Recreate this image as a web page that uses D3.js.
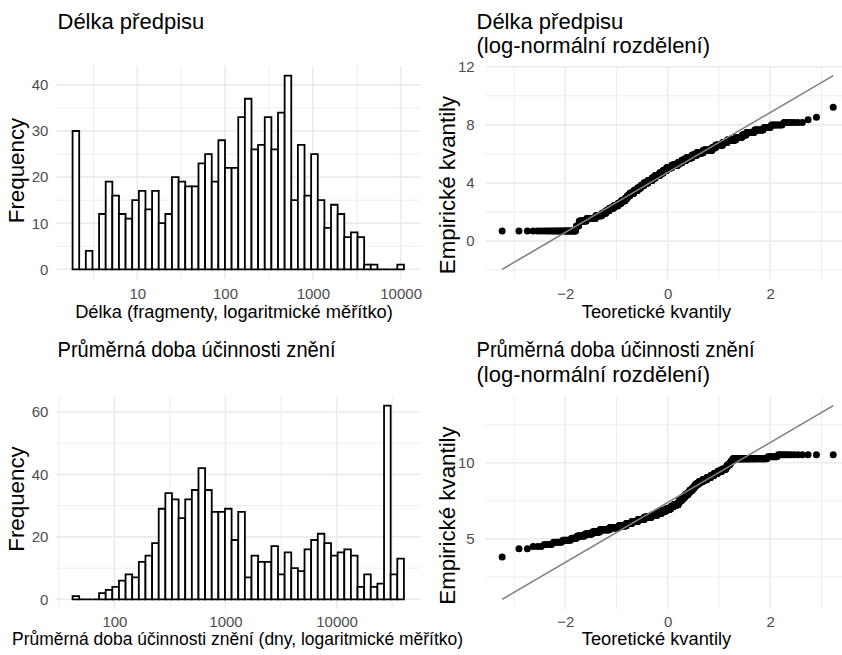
<!DOCTYPE html>
<html><head><meta charset="utf-8">
<script src="https://cdn.jsdelivr.net/npm/d3@7"></script>
<style>
body{margin:0;background:#fff}
svg{display:block}
text{font-family:"Liberation Sans",Arial,Helvetica,sans-serif}
</style>
</head><body>
<svg id="c" width="842" height="655"></svg>
<script>
// ---------------- data ----------------
// histogram counts, 50 bins on a log10 axis; bin centres run from range[0] to range[1]
const lengthCounts = [30,0,4,0,12,19,16,12,11,15,17,13,17,10,12,20,19,18,18,23,25,19,28,22,22,33,37,26,27,33,26,34,42,15,27,16,25,15,9,14,12,7,8,7,1,1,0,0,0,1];
const lengthRange = [2, 10000];
const durationCounts = [1,0,0,0,2,3,4,6,8,7,12,14,18,29,34,32,26,32,35,42,35,28,28,29,19,28,7,14,12,12,17,8,15,10,9,16,19,21,18,14,15,16,14,4,8,4,5,62,8,13];
const durationRange = [45, 37700];
// tick labels
const lengthTicks = [10, 100, 1000, 10000];
const durationTicks = [100, 1000, 10000];
const lengthFreqTicks = [0, 10, 20, 30, 40];
const durationFreqTicks = [0, 20, 40, 60];
const qqXTicks = [-2, 0, 2];
const lengthQQTicks = [0, 4, 8, 12];
const durationQQTicks = [5, 10];
// reference lines of the QQ plots (intercept, slope)
const lengthQQLine = [4.72, 2.06];
const durationQQLine = [7.39, 1.97];
// texts
const titles = {
  tl: ["Délka předpisu"],
  tr: ["Délka předpisu", "(log-normální rozdělení)"],
  bl: ["Průměrná doba účinnosti znění"],
  br: ["Průměrná doba účinnosti znění", "(log-normální rozdělení)"]
};
const xTitles = {
  tl: "Délka (fragmenty, logaritmické měřítko)",
  bl: "Průměrná doba účinnosti znění (dny, logaritmické měřítko)",
  qq: "Teoretické kvantily"
};
const yTitles = { hist: "Frequency", qq: "Empirické kvantily" };

// ---------------- layout ----------------
const P = {
  tl: {x0: 56, x1: 420.5, y0: 66, y1: 279, xpad: 9.3},
  tr: {x0: 485.6, x1: 849.8, y0: 66, y1: 279, xpad: 9.3},
  bl: {x0: 56, x1: 420.5, y0: 396, y1: 609, xpad: 7.3},
  br: {x0: 485.6, x1: 849.8, y0: 396, y1: 609, xpad: 7.3}
};
const GRID = "#EBEBEB", TICK = "#4D4D4D";
const FS_TICK = 15, FS_AXX = 18.3, FS_AXY = 22.3, FS_TITLE = 22;

const svg = d3.select("#c");

function invNorm(p) {
  const a = [-3.969683028665376e+01, 2.209460984245205e+02, -2.759285104469687e+02, 1.383577518672690e+02, -3.066479806614716e+01, 2.506628277459239e+00];
  const b = [-5.447609879822406e+01, 1.615858368580409e+02, -1.556989798598866e+02, 6.680131188771972e+01, -1.328068155288572e+01];
  const c = [-7.784894002430293e-03, -3.223964580411365e-01, -2.400758277161838e+00, -2.549732539343734e+00, 4.374664141464968e+00, 2.938163982698783e+00];
  const d = [7.784695709041462e-03, 3.224671290700398e-01, 2.445134137142996e+00, 3.754408661907416e+00];
  const pl = 0.02425, ph = 1 - pl;
  let q, r;
  if (p < pl) { q = Math.sqrt(-2 * Math.log(p));
    return (((((c[0]*q+c[1])*q+c[2])*q+c[3])*q+c[4])*q+c[5]) / ((((d[0]*q+d[1])*q+d[2])*q+d[3])*q+1); }
  if (p <= ph) { q = p - 0.5; r = q*q;
    return (((((a[0]*r+a[1])*r+a[2])*r+a[3])*r+a[4])*r+a[5])*q / (((((b[0]*r+b[1])*r+b[2])*r+b[3])*r+b[4])*r+1); }
  q = Math.sqrt(-2 * Math.log(1 - p));
  return -(((((c[0]*q+c[1])*q+c[2])*q+c[3])*q+c[4])*q+c[5]) / ((((d[0]*q+d[1])*q+d[2])*q+d[3])*q+1);
}

function expand(lo, hi) { const e = (hi - lo) * 0.05; return [lo - e, hi + e]; }

function grid(g, p, xs, ys, w) {
  g.selectAll(null).data(xs).enter().append("line")
    .attr("x1", d => d).attr("x2", d => d).attr("y1", p.y0).attr("y2", p.y1)
    .attr("stroke", GRID).attr("stroke-width", w);
  g.selectAll(null).data(ys).enter().append("line")
    .attr("y1", d => d).attr("y2", d => d).attr("x1", p.x0).attr("x2", p.x1)
    .attr("stroke", GRID).attr("stroke-width", w);
}

function midMinor(ticks, dom) {
  const step = ticks[1] - ticks[0];
  const out = [];
  for (let v = ticks[0] - step / 2; v <= dom[1]; v += step) if (v >= dom[0]) out.push(v);
  return out.filter(v => !ticks.includes(v));
}

function styleAxis(sel) {
  sel.select(".domain").remove();
  sel.selectAll("text").attr("fill", TICK).style("font-size", FS_TICK + "px")
    .style("font-family", '"Liberation Sans",Arial,sans-serif');
}

// fitW: optional widths (px) of each line, as measured on the reference
function titleText(x, y, lines, fitW) {
  const t = svg.append("text").attr("x", x).attr("y", y)
    .style("font-size", FS_TITLE + "px").attr("fill", "#000");
  lines.forEach((l, i) => {
    const s = t.append("tspan").attr("x", x).attr("dy", i ? 24.5 : 0).text(l);
    if (fitW && fitW[i]) s.attr("textLength", fitW[i]).attr("lengthAdjust", "spacingAndGlyphs");
  });
}

function axisTitleX(x, y, s, fitW) {
  const t = svg.append("text").attr("x", x).attr("y", y).attr("text-anchor", "middle")
    .style("font-size", FS_AXX + "px").attr("fill", "#000").text(s);
  if (fitW) t.attr("textLength", fitW).attr("lengthAdjust", "spacingAndGlyphs");
}
function axisTitleY(x, y, s) {
  svg.append("text").attr("transform", `translate(${x},${y}) rotate(-90)`).attr("text-anchor", "middle")
    .style("font-size", FS_AXY + "px").attr("fill", "#000").text(s);
}

function drawHist(p, counts, range, xTicks, yTicks) {
  const lmin = Math.log10(range[0]), lmax = Math.log10(range[1]);
  const w = (lmax - lmin) / (counts.length - 1);
  const bins = counts.map((c, i) => ({c, lo: lmin - w / 2 + i * w, hi: lmin + w / 2 + i * w}));
  const xd = expand(lmin - w / 2, lmax + w / 2);
  const x = d3.scaleLog().domain([Math.pow(10, xd[0]), Math.pow(10, xd[1])]).range([p.x0, p.x1]);
  const ymax = d3.max(counts);
  const yd = expand(0, ymax);
  const y = d3.scaleLinear().domain(yd).range([p.y1, p.y0]);
  const g = svg.append("g");
  const xMinor = [];
  for (let k = Math.floor(xd[0]); k <= Math.ceil(xd[1]); k++) {
    const v = k + 0.5; if (v >= xd[0] && v <= xd[1]) xMinor.push(x(Math.pow(10, v)));
  }
  grid(g, p, xMinor, midMinor(yTicks, yd).map(y), 0.9);
  grid(g, p, xTicks.map(x), yTicks.map(y), 1.6);
  g.selectAll(null).data(bins).enter().append("path")
    .attr("d", b => {
      const a = x(Math.pow(10, b.lo)), e = x(Math.pow(10, b.hi)), t = y(b.c), z = y(0);
      return `M${a},${z}V${t}H${e}V${z}Z`;
    })
    .attr("fill", "#fff").attr("stroke", "#000").attr("stroke-width", 1.8).attr("stroke-linejoin", "miter");
  svg.append("g").attr("transform", `translate(0,${p.y1})`)
    .call(d3.axisBottom(x).tickValues(xTicks).tickFormat(d3.format("d")).tickSize(0).tickPadding(p.xpad))
    .call(styleAxis);
  svg.append("g").attr("transform", `translate(${p.x0},0)`)
    .call(d3.axisLeft(y).tickValues(yTicks).tickFormat(d3.format("d")).tickSize(0).tickPadding(7.7))
    .call(styleAxis);
}

function drawQQ(p, counts, range, line, yTicks) {
  const lmin = Math.log10(range[0]), lmax = Math.log10(range[1]);
  const w = (lmax - lmin) / (counts.length - 1);
  const sample = [];
  counts.forEach((c, i) => { for (let j = 0; j < c; j++) sample.push((lmin + i * w) * Math.LN10); });
  const n = sample.length;
  const pts = sample.map((v, i) => ({t: invNorm((i + 0.5) / n), v}));
  const tx = [pts[0].t, pts[n - 1].t];
  const lineY = tx.map(t => line[0] + line[1] * t);
  const xd = expand(tx[0], tx[1]);
  const yd = expand(Math.min(d3.min(sample), ...lineY), Math.max(d3.max(sample), ...lineY));
  const x = d3.scaleLinear().domain(xd).range([p.x0, p.x1]);
  const y = d3.scaleLinear().domain(yd).range([p.y1, p.y0]);
  const g = svg.append("g");
  const xMinor = [-3, -1, 1, 3].filter(v => v >= xd[0] && v <= xd[1]).map(x);
  grid(g, p, xMinor, midMinor(yTicks, yd).map(y), 0.9);
  grid(g, p, qqXTicks.map(x), yTicks.filter(v => v >= yd[0] && v <= yd[1]).map(y), 1.6);
  g.selectAll(null).data(pts).enter().append("circle")
    .attr("cx", d => x(d.t)).attr("cy", d => y(d.v)).attr("r", 3.5).attr("fill", "#000");
  g.append("path")
    .attr("d", d3.line()(tx.map((t, i) => [x(t), y(lineY[i])])))
    .attr("stroke", "#808080").attr("stroke-width", 1.6).attr("fill", "none");
  svg.append("g").attr("transform", `translate(0,${p.y1})`)
    .call(d3.axisBottom(x).tickValues(qqXTicks).tickFormat(d => d < 0 ? "\u2212" + Math.abs(d) : d).tickSize(0).tickPadding(p.xpad))
    .call(styleAxis);
  svg.append("g").attr("transform", `translate(${p.x0},0)`)
    .call(d3.axisLeft(y).tickValues(yTicks).tickFormat(d3.format("d")).tickSize(0).tickPadding(11))
    .call(styleAxis);
}

drawHist(P.tl, lengthCounts, lengthRange, lengthTicks, lengthFreqTicks);
drawHist(P.bl, durationCounts, durationRange, durationTicks, durationFreqTicks);
drawQQ(P.tr, lengthCounts, lengthRange, lengthQQLine, lengthQQTicks);
drawQQ(P.br, durationCounts, durationRange, durationQQLine, durationQQTicks);

titleText(57.5, 28.5, titles.tl);
titleText(476.5, 28.5, titles.tr);
titleText(57.5, 357, titles.bl, [278]);
titleText(476.5, 357, titles.br, [278]);

axisTitleX(234, 318, xTitles.tl);
axisTitleX(237.5, 644.5, xTitles.bl, 451);
axisTitleX(656.5, 317.5, xTitles.qq);
axisTitleX(656.5, 644.5, xTitles.qq);

axisTitleY(24, 170.5, yTitles.hist);
axisTitleY(24, 499, yTitles.hist);
axisTitleY(455, 185, yTitles.qq);
axisTitleY(455, 515.5, yTitles.qq);
</script>
</body></html>
